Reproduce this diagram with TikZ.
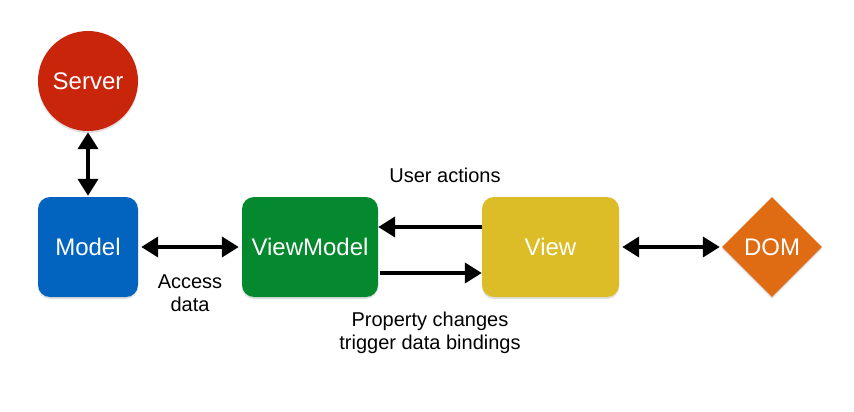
\documentclass[tikz,border=0pt]{standalone}
\usepackage{fontspec}
\setmainfont{Liberation Sans}
\usetikzlibrary{arrows.meta,shapes.geometric,shadows}
\definecolor{cserver}{HTML}{C8250B}
\definecolor{cmodel}{HTML}{0364C0}
\definecolor{cvm}{HTML}{05892E}
\definecolor{cview}{HTML}{DCBD27}
\definecolor{cdom}{HTML}{DF6B13}
\begin{document}
\begin{tikzpicture}[x=1pt,y=-1pt,
  shad/.style={drop shadow={opacity=0.25,shadow xshift=0pt,shadow yshift=-2pt}},
  boxnode/.style={rectangle,rounded corners=12pt,minimum height=100pt,inner sep=0pt,text=white,font=\fontsize{24}{27}\selectfont,shad},
  conn/.style={line width=4pt,-{Triangle[width=20pt,length=17pt]}},
  biconn/.style={line width=4pt,{Triangle[width=20pt,length=17pt]}-{Triangle[width=20pt,length=17pt]}},
  lbl/.style={font=\fontsize{20}{23}\selectfont,align=center,inner sep=0pt}]
\useasboundingbox[fill=white] (0,0) rectangle (854,412);
\node[circle,fill=cserver,minimum size=100pt,inner sep=0pt,text=white,font=\fontsize{24}{27}\selectfont,shad] (server) at (88,81) {Server};
\node[boxnode,fill=cmodel,minimum width=100pt] (model) at (88,247) {Model};
\node[boxnode,fill=cvm,minimum width=136pt] (vm) at (310,247) {ViewModel};
\node[boxnode,fill=cview,minimum width=137pt] (view) at (550.5,247) {View};
\node[diamond,fill=cdom,minimum width=100pt,minimum height=100pt,inner sep=0pt,text=white,font=\fontsize{24}{27}\selectfont,shad] (dom) at (772,247) {DOM};
\draw[biconn,shorten <=1pt,shorten >=1pt] (server) -- (model);
\draw[biconn,shorten <=3pt,shorten >=3pt] (model) -- (vm);
\draw[conn] (view.west |- 0,227) -- (vm.east |- 0,227);
\draw[conn,shorten <=2pt] (vm.east |- 0,273) -- (view.west |- 0,273);
\draw[biconn,shorten <=3pt,shorten >=2pt] (view) -- (dom);
\node[lbl] (ua) at (445,175) {User actions};
\node[lbl] (ad) at (190,293) {Access\\data};
\node[lbl] (pc) at (430,333) {Property changes\\trigger data bindings};
\end{tikzpicture}
\end{document}
